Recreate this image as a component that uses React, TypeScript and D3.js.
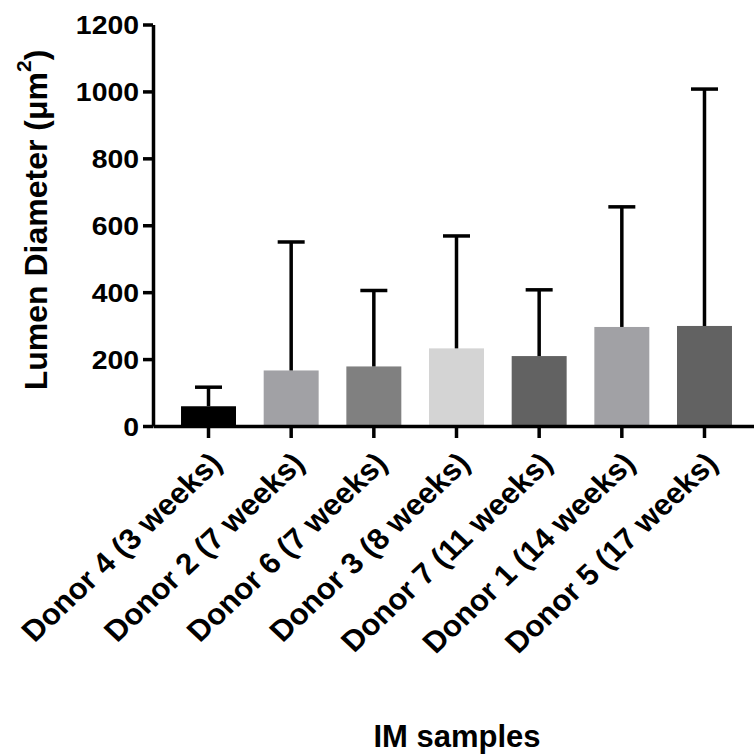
import React, { useRef, useEffect } from "react";
import { axisBottom, axisLeft, scaleBand, scaleLinear, select } from "d3";

const categories = [
  "Donor 4 (3 weeks)",
  "Donor 2 (7 weeks)",
  "Donor 6 (7 weeks)",
  "Donor 3 (8 weeks)",
  "Donor 7 (11 weeks)",
  "Donor 1 (14 weeks)",
  "Donor 5 (17 weeks)",
];
const means = [59, 166, 178, 232, 209, 296, 299];
const sds = [57, 384, 227, 336, 198, 359, 708];
const barColors = ["#000000", "#a1a1a5", "#808080", "#d4d4d4", "#626262", "#a1a1a5", "#626262"];
const yTicks = [0, 200, 400, 600, 800, 1000, 1200];

const FONT = "'Liberation Sans', Arial, Helvetica, sans-serif";

const LumenChart = ({
  width = 754,
  height = 755,
  left = 153,
  right = 760,
  top = 24.5,
  bottom = 426,
}) => {
  const svgRef = useRef<SVGSVGElement>(null);

  useEffect(() => {
    const svg = select(svgRef.current);
    svg.selectAll("*").remove();

    const data = categories.map((name, i) => ({
      name,
      mean: means[i],
      sd: sds[i],
      color: barColors[i],
    }));

    const xScale = scaleBand<string>()
      .domain(categories)
      .range([left, right])
      .paddingInner(0.335)
      .paddingOuter(0.339);

    const yScale = scaleLinear().domain([0, 1200]).range([bottom, top]);

    // bars
    svg
      .append("g")
      .selectAll("rect")
      .data(data)
      .join("rect")
      .attr("x", (d) => xScale(d.name)!)
      .attr("y", (d) => yScale(d.mean))
      .attr("width", xScale.bandwidth())
      .attr("height", (d) => yScale(0) - yScale(d.mean))
      .style("fill", (d) => d.color);

    // error bars (upper only)
    const err = svg.append("g").attr("stroke", "#000").attr("stroke-width", 3.5);
    const cx = (d) => xScale(d.name)! + xScale.bandwidth() / 2;
    err
      .selectAll("line.v")
      .data(data)
      .join("line")
      .attr("class", "v")
      .attr("x1", cx)
      .attr("x2", cx)
      .attr("y1", (d) => yScale(d.mean))
      .attr("y2", (d) => yScale(d.mean + d.sd));
    err
      .selectAll("line.cap")
      .data(data)
      .join("line")
      .attr("class", "cap")
      .attr("x1", (d) => cx(d) - 13.5)
      .attr("x2", (d) => cx(d) + 13.5)
      .attr("y1", (d) => yScale(d.mean + d.sd))
      .attr("y2", (d) => yScale(d.mean + d.sd));

    // y axis
    svg
      .append("g")
      .attr("transform", `translate(${left},0)`)
      .call(
        axisLeft(yScale)
          .tickValues(yTicks)
          .tickFormat((d) => String(d))
          .tickSize(10)
          .tickSizeOuter(0)
          .tickPadding(2.6)
      )
      .call((g) => g.selectAll("path, line").attr("stroke", "#000").attr("stroke-width", 3.5))
      .call((g) =>
        g
          .selectAll("text")
          .attr("fill", "#000")
          .attr("dy", "0.36em")
          .attr("transform", "scale(1.11,1)")
          .style("font-family", FONT)
          .style("font-weight", "bold")
          .style("font-size", "25.6px")
      );

    // x axis
    svg
      .append("g")
      .attr("transform", `translate(0,${bottom})`)
      .call(axisBottom(xScale).tickSize(12).tickSizeOuter(0))
      .call((g) => g.selectAll("path, line").attr("stroke", "#000").attr("stroke-width", 3.5))
      .call((g) => g.selectAll("text").remove());

    // rotated category labels
    svg
      .append("g")
      .selectAll("text")
      .data(categories)
      .join("text")
      .attr(
        "transform",
        (d) => `translate(${xScale(d)! + xScale.bandwidth() / 2 + 15},${bottom + 39}) scale(1.06,1) rotate(-45)`
      )
      .attr("text-anchor", "end")
      .style("font-family", FONT)
      .style("font-weight", "bold")
      .style("font-size", "29.5px")
      .text((d) => d);

    // y title
    const yTitle = svg
      .append("text")
      .attr("transform", `translate(47,220) rotate(-90)`)
      .attr("text-anchor", "middle")
      .style("font-family", FONT)
      .style("font-weight", "bold")
      .style("font-size", "32px");
    yTitle.append("tspan").text("Lumen Diameter (\u03bcm");
    yTitle.append("tspan").attr("dy", -16).style("font-size", "21px").text("2");
    yTitle.append("tspan").attr("dy", 16).text(")");

    // x title
    svg
      .append("text")
      .attr("x", 457)
      .attr("y", 746.5)
      .attr("text-anchor", "middle")
      .style("font-family", FONT)
      .style("font-weight", "bold")
      .style("font-size", "31px")
      .text("IM samples");
  }, []);

  return (
    <svg
      ref={svgRef}
      width={width}
      height={height}
      style={{ position: "absolute", left: 0, top: 0, background: "#fff" }}
    />
  );
};

export default function App() {
  return <LumenChart />;
}
